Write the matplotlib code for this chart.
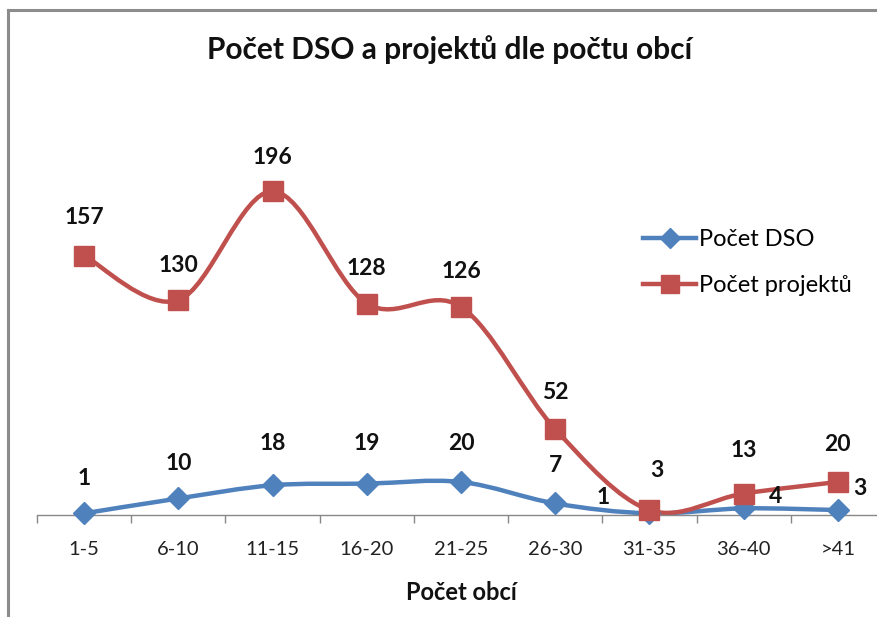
import matplotlib
matplotlib.use("Agg")
import matplotlib.pyplot as plt
from matplotlib.path import Path
from matplotlib.patches import PathPatch
from matplotlib.lines import Line2D
import numpy as np

categories = ["1-5", "6-10", "11-15", "16-20", "21-25", "26-30", "31-35", "36-40", ">41"]
dso = [1, 10, 18, 19, 20, 7, 1, 4, 3]
projekty = [157, 130, 196, 128, 126, 52, 3, 13, 20]

title = "Počet DSO a projektů dle počtu obcí"
xlabel = "Počet obcí"
series_names = ["Počet DSO", "Počet projektů"]

BLUE = "#4F81BD"
RED = "#C0504D"
FONT = ["Lato", "DejaVu Sans"]
plt.rcParams["font.family"] = FONT

# label offsets in pixels (dx, dy) – styling only
dso_off = [(0, 35), (0, 35), (0, 42), (0, 40), (0, 38), (0, 38), (-46, 16), (32, 12), (22, 22)]
proj_off = [(0, 38), (0, 35), (0, 34), (0, 35), (0, 35), (0, 37), (7, 40), (0, 43), (0, 37)]

W, H = 878, 617
fig = plt.figure(figsize=(W / 100, H / 100), dpi=100)
fig.patch.set_facecolor("white")

ax = fig.add_axes([37 / W, 102 / H, 848 / W, 413 / H])
ax.set_xlim(-0.5, len(categories) - 0.5)
ax.set_ylim(0, 250)
for s in ["top", "right", "left"]:
    ax.spines[s].set_visible(False)
ax.spines["bottom"].set_color("#888888")
ax.spines["bottom"].set_linewidth(1.0)
ax.set_yticks([])
ax.set_xticks(np.arange(len(categories)))
ax.set_xticklabels(categories, fontsize=14.5, color="#222222")
ax.set_xticks(np.arange(len(categories) + 1) - 0.5, minor=True)
ax.tick_params(axis="x", which="major", length=0, pad=19)
ax.tick_params(axis="x", which="minor", length=6, color="#888888", width=1, direction="out")
ax.set_xlabel(xlabel, fontsize=17, fontweight="bold", labelpad=16, color="#111111")


def smooth_path(xs, ys):
    pts = np.column_stack([xs, ys]).astype(float)
    n = len(pts)
    verts = [pts[0]]
    codes = [Path.MOVETO]
    for i in range(n - 1):
        p0 = pts[i - 1] if i > 0 else pts[i]
        p1 = pts[i]
        p2 = pts[i + 1]
        p3 = pts[i + 2] if i + 2 < n else pts[i + 1]
        c1 = p1 + (p2 - p0) / 6.0
        c2 = p2 - (p3 - p1) / 6.0
        verts += [c1, c2, p2]
        codes += [Path.CURVE4] * 3
    return Path(verts, codes)


x = np.arange(len(categories))
for vals, color, marker, ms in [(dso, BLUE, "D", 11), (projekty, RED, "s", 14)]:
    patch = PathPatch(smooth_path(x, vals), facecolor="none", edgecolor=color,
                      linewidth=3.2, capstyle="round", joinstyle="round", zorder=2)
    ax.add_patch(patch)
    ax.plot(x, vals, linestyle="none", marker=marker, markersize=ms, color=color,
            markeredgecolor=color, zorder=3, clip_on=False)

for xi, v, (dx, dy) in zip(x, dso, dso_off):
    ax.annotate(str(v), (xi, v), xytext=(dx, dy), textcoords="offset pixels",
                ha="center", va="center", fontsize=16.5, fontweight="bold", color="#111111")
for xi, v, (dx, dy) in zip(x, projekty, proj_off):
    ax.annotate(str(v), (xi, v), xytext=(dx, dy), textcoords="offset pixels",
                ha="center", va="center", fontsize=16.5, fontweight="bold", color="#111111")

handles = [Line2D([], [], color=BLUE, lw=3.2, marker="D", markersize=10),
           Line2D([], [], color=RED, lw=3.2, marker="s", markersize=13)]
fig.legend(handles, series_names, loc="upper left", bbox_to_anchor=(622 / W, 1 - 208 / H),
           frameon=False, fontsize=17, handlelength=2.25, handletextpad=0.12,
           labelspacing=1.05)

fig.text(450 / W, 1 - 50 / H, title, ha="center", va="center", fontsize=21.5,
         fontweight="bold", color="#111111")

# chart border (top and left visible)
fig.add_artist(Line2D([8 / W, 8 / W], [0, 1 - 10 / H], color="#8c8c8c", lw=2.2,
                      transform=fig.transFigure))
fig.add_artist(Line2D([8 / W, 1], [1 - 10 / H, 1 - 10 / H], color="#8c8c8c", lw=2.2,
                      transform=fig.transFigure))

fig.savefig("out.png", dpi=100, facecolor="white")
